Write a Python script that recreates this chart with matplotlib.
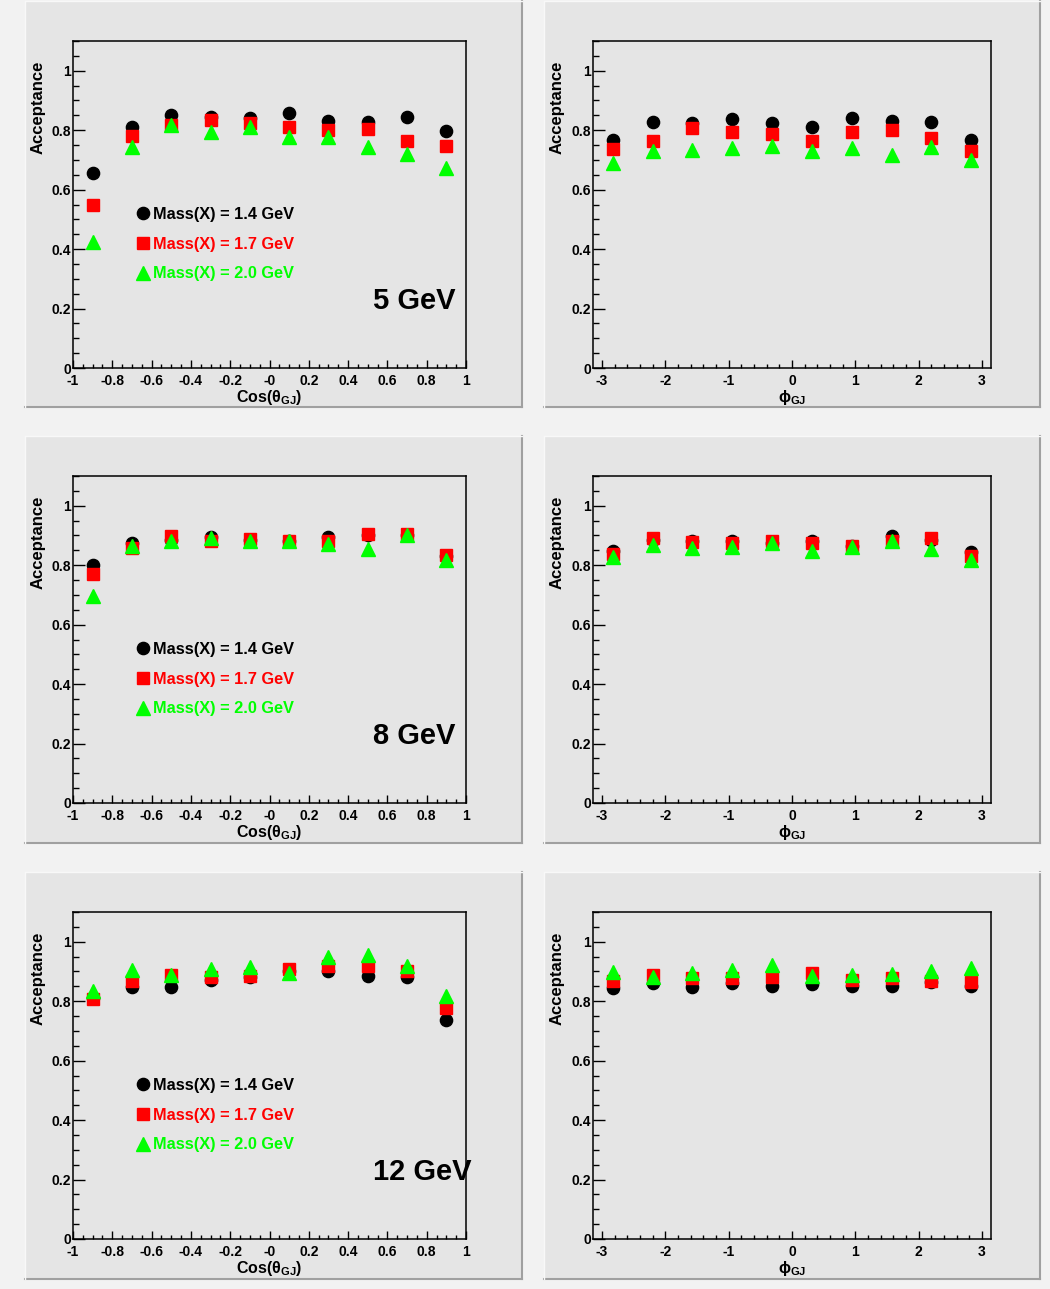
import matplotlib
matplotlib.use('Agg')
import matplotlib.pyplot as plt
from matplotlib.patches import Rectangle
from matplotlib.lines import Line2D
from matplotlib.ticker import MultipleLocator, FixedLocator, FixedFormatter

plt.rcParams['font.family'] = ['Liberation Sans', 'DejaVu Sans']
plt.rcParams['font.weight'] = 'bold'
plt.rcParams['mathtext.fontset'] = 'custom'
plt.rcParams['mathtext.rm'] = 'Liberation Sans'
plt.rcParams['mathtext.bf'] = 'Liberation Sans:bold'
plt.rcParams['mathtext.it'] = 'Liberation Sans:italic'

# ---------------- data ----------------
cos_centers = [-0.9, -0.7, -0.5, -0.3, -0.1, 0.1, 0.3, 0.5, 0.7, 0.9]
phi_centers = [-2.827, -2.199, -1.571, -0.942, -0.314, 0.314, 0.942, 1.571, 2.199, 2.827]

mass_labels = ['Mass(X) = 1.4 GeV', 'Mass(X) = 1.7 GeV', 'Mass(X) = 2.0 GeV']
beam_labels = ['5 GeV', '8 GeV', '12 GeV']

cos_tick_vals = [-1, -0.8, -0.6, -0.4, -0.2, 0, 0.2, 0.4, 0.6, 0.8, 1]
cos_tick_labels = ['-1', '-0.8', '-0.6', '-0.4', '-0.2', '-0', '0.2', '0.4', '0.6', '0.8', '1']
phi_tick_vals = [-3, -2, -1, 0, 1, 2, 3]
phi_tick_labels = ['-3', '-2', '-1', '0', '1', '2', '3']
y_tick_vals = [0, 0.2, 0.4, 0.6, 0.8, 1.0]
y_tick_labels = ['0', '0.2', '0.4', '0.6', '0.8', '1']

cos5_m14 = [0.655, 0.812, 0.852, 0.846, 0.841, 0.857, 0.832, 0.826, 0.845, 0.796]
cos5_m17 = [0.549, 0.782, 0.816, 0.835, 0.823, 0.812, 0.801, 0.804, 0.765, 0.748]
cos5_m20 = [0.424, 0.745, 0.819, 0.793, 0.812, 0.776, 0.778, 0.742, 0.720, 0.672]

phi5_m14 = [0.767, 0.827, 0.823, 0.838, 0.825, 0.812, 0.841, 0.830, 0.827, 0.767]
phi5_m17 = [0.737, 0.765, 0.807, 0.795, 0.787, 0.762, 0.793, 0.801, 0.773, 0.729]
phi5_m20 = [0.688, 0.729, 0.733, 0.740, 0.747, 0.731, 0.739, 0.718, 0.742, 0.700]

cos8_m14 = [0.800, 0.875, 0.885, 0.894, 0.885, 0.880, 0.894, 0.900, 0.900, 0.830]
cos8_m17 = [0.771, 0.858, 0.897, 0.882, 0.888, 0.883, 0.880, 0.906, 0.906, 0.835]
cos8_m20 = [0.695, 0.866, 0.880, 0.891, 0.883, 0.880, 0.871, 0.855, 0.900, 0.816]

phi8_m14 = [0.849, 0.885, 0.883, 0.883, 0.875, 0.883, 0.865, 0.897, 0.884, 0.844]
phi8_m17 = [0.839, 0.890, 0.877, 0.875, 0.880, 0.875, 0.866, 0.881, 0.890, 0.832]
phi8_m20 = [0.827, 0.869, 0.858, 0.862, 0.873, 0.847, 0.862, 0.883, 0.853, 0.819]

cos12_m14 = [0.810, 0.847, 0.849, 0.872, 0.880, 0.900, 0.903, 0.886, 0.880, 0.737]
cos12_m17 = [0.808, 0.869, 0.889, 0.883, 0.886, 0.909, 0.917, 0.917, 0.900, 0.778]
cos12_m20 = [0.834, 0.905, 0.889, 0.909, 0.914, 0.894, 0.948, 0.956, 0.917, 0.816]

phi12_m14 = [0.846, 0.860, 0.849, 0.860, 0.852, 0.858, 0.852, 0.852, 0.865, 0.852]
phi12_m17 = [0.869, 0.888, 0.877, 0.878, 0.880, 0.894, 0.871, 0.878, 0.869, 0.863]
phi12_m20 = [0.897, 0.880, 0.894, 0.905, 0.923, 0.886, 0.889, 0.891, 0.903, 0.911]

cos_series = [(cos5_m14, cos5_m17, cos5_m20),
              (cos8_m14, cos8_m17, cos8_m20),
              (cos12_m14, cos12_m17, cos12_m20)]
phi_series = [(phi5_m14, phi5_m17, phi5_m20),
              (phi8_m14, phi8_m17, phi8_m20),
              (phi12_m14, phi12_m17, phi12_m20)]

# ---------------- style ----------------
W, H = 1050, 1289
colors = ['#000000', '#ff0000', '#00ff00']
markers = ['o', 's', '^']
msizes = [8.8, 9.0, 9.6]
pad_color = '#e5e5e5'
bg_color = '#f2f2f2'

fig = plt.figure(figsize=(W / 100, H / 100), dpi=100)
fig.patch.set_facecolor(bg_color)

pad_cols = [(25, 522), (544, 1040)]
pad_rows = [(1, 407), (436, 843), (872, 1279)]
frame_cols = [(73, 466), (593, 991)]
frame_row_offsets = (40, 367)  # relative to pad top


def fx(x):
    return x / W


def fy(y):
    return 1 - y / H


# pads
for (r0, r1) in pad_rows:
    for (c0, c1) in pad_cols:
        fig.patches.append(Rectangle((fx(c0), fy(r1)), fx(c1 - c0), (r1 - r0) / H,
                                     transform=fig.transFigure, facecolor=pad_color,
                                     edgecolor='none', zorder=-3))
        fig.lines.append(Line2D([fx(c1), fx(c1)], [fy(r1), fy(r0)], transform=fig.transFigure,
                                color='#a0a0a0', lw=1.5, zorder=-2))
        fig.lines.append(Line2D([fx(c0), fx(c1)], [fy(r1), fy(r1)], transform=fig.transFigure,
                                color='#a0a0a0', lw=1.5, zorder=-2))
        fig.lines.append(Line2D([fx(c0), fx(c0)], [fy(r1), fy(r0)], transform=fig.transFigure,
                                color='#f8f8f8', lw=1.0, zorder=-2))
        fig.lines.append(Line2D([fx(c0), fx(c1)], [fy(r0), fy(r0)], transform=fig.transFigure,
                                color='#f8f8f8', lw=1.0, zorder=-2))


def style_axes(ax, xmin, xmax, xticks, xlabels, xminor):
    ax.set_facecolor(pad_color)
    ax.set_xlim(xmin, xmax)
    ax.set_ylim(0, 1.1)
    for s in ax.spines.values():
        s.set_linewidth(1.1)
        s.set_color('black')
    ax.xaxis.set_major_locator(FixedLocator(xticks))
    ax.xaxis.set_major_formatter(FixedFormatter(xlabels))
    ax.xaxis.set_minor_locator(MultipleLocator(xminor))
    ax.yaxis.set_major_locator(FixedLocator(y_tick_vals))
    ax.yaxis.set_major_formatter(FixedFormatter(y_tick_labels))
    ax.yaxis.set_minor_locator(MultipleLocator(0.05))
    ax.tick_params(axis='both', which='both', direction='in', top=False, right=False,
                   labelsize=10, width=1.0, color='black')
    ax.tick_params(axis='y', which='major', length=8.6, pad=1.5)
    ax.tick_params(axis='y', which='minor', length=4.6)
    ax.tick_params(axis='x', which='major', length=5.8, pad=4.5)
    ax.tick_params(axis='x', which='minor', length=3.0)
    for lab in ax.get_xticklabels() + ax.get_yticklabels():
        lab.set_fontweight('bold')
    ax.set_ylabel('Acceptance', fontsize=12, fontweight='bold', loc='top')
    ax.yaxis.set_label_coords(-0.071, 0.94)


for r, (r0, r1) in enumerate(pad_rows):
    top = r0 + frame_row_offsets[0]
    bot = r0 + frame_row_offsets[1]
    # cos theta panel
    c0, c1 = frame_cols[0]
    ax = fig.add_axes([fx(c0), fy(bot), fx(c1 - c0), (bot - top) / H])
    style_axes(ax, -1, 1, cos_tick_vals, cos_tick_labels, 0.05)
    handles = []
    for k in range(3):
        h, = ax.plot(cos_centers, cos_series[r][k], linestyle='none', marker=markers[k],
                     ms=msizes[k], color=colors[k], mec=colors[k], zorder=3 + k,
                     label=mass_labels[k])
        handles.append(h)
    ax.set_xlabel(r'$\mathbf{Cos(}\mathrm{\theta}_{\mathbf{GJ}}\mathbf{)}$', fontsize=11.5, labelpad=0)
    leg = ax.legend(handles=handles, loc='upper left', bbox_to_anchor=(0.162, 0.493),
                    frameon=False, handlelength=0.8, handletextpad=0.22,
                    labelspacing=0.9, borderpad=0, borderaxespad=0, numpoints=1,
                    prop={'weight': 'bold', 'size': 11.8})
    for txt, c in zip(leg.get_texts(), colors):
        txt.set_color(c)
    ax.text(0.763, 0.181, beam_labels[r], transform=ax.transAxes, fontsize=21,
            fontweight='bold', ha='left', va='baseline', clip_on=False)

    # phi panel
    c0, c1 = frame_cols[1]
    ax2 = fig.add_axes([fx(c0), fy(bot), fx(c1 - c0), (bot - top) / H])
    style_axes(ax2, -3.14159, 3.14159, phi_tick_vals, phi_tick_labels, 0.2)
    for k in range(3):
        ax2.plot(phi_centers, phi_series[r][k], linestyle='none', marker=markers[k],
                 ms=msizes[k], color=colors[k], mec=colors[k], zorder=3 + k)
    ax2.set_xlabel(r'$\mathrm{\phi}_{\mathbf{GJ}}$', fontsize=11.5, labelpad=0)

fig.savefig('out.png', dpi=100, facecolor=fig.get_facecolor())
